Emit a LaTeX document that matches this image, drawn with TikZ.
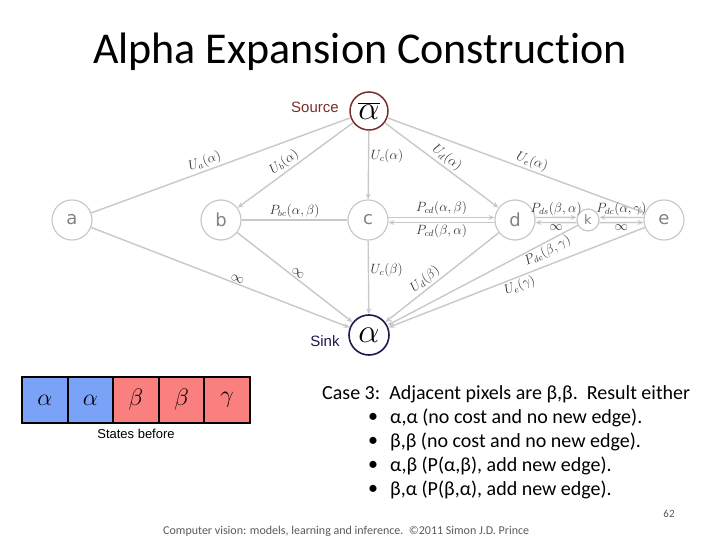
\documentclass[tikz,border=0pt]{standalone}
\usepackage{fontspec}
\setmainfont{Carlito}[Ligatures=NoCommon]
\newfontfamily\nodefont{DejaVu Sans}
\newfontfamily\arialfont{Liberation Sans}
\usetikzlibrary{arrows.meta}
\definecolor{edgegray}{RGB}{200,200,200}
\definecolor{lettergray}{RGB}{130,130,130}
\definecolor{srcred}{RGB}{125,45,45}
\definecolor{sinknavy}{RGB}{25,25,80}
\definecolor{cellblue}{RGB}{122,162,247}
\definecolor{cellred}{RGB}{250,128,128}
\definecolor{footgray}{RGB}{90,90,90}
\tikzset{
  pix/.style={circle, draw=edgegray, line width=1.2pt, minimum size=40pt, inner sep=0pt,
    text=lettergray, font=\nodefont\fontsize{18}{18}\selectfont},
  smallpix/.style={pix, minimum size=22pt, font=\nodefont\fontsize{13}{13}\selectfont},
  edge/.style={draw=edgegray, line width=1.4pt},
  arr/.style={edge, -{Stealth[length=6pt,width=5pt]}},
  lab/.style={font=\fontsize{12}{13}\selectfont, text=black!80, inner sep=1.3pt, scale=1.12},
  cell/.style={draw=black, line width=2pt, minimum width=45.6pt, minimum height=46pt,
    inner sep=0pt, font=\fontsize{20}{20}\selectfont},
  txt/.style={anchor=west, inner sep=0pt, font=\fontsize{20}{24}\selectfont},
}
\begin{document}
\begin{tikzpicture}[x=1pt,y=-1pt]
\useasboundingbox (0,0) rectangle (720,540);
% title
\node[font=\fontsize{44}{48}\selectfont] (title) at (360,52) {Alpha Expansion Construction};
% terminals
\node[circle, draw=srcred, line width=1.5pt, minimum size=38pt, inner sep=0pt,
  font=\fontsize{24}{24}\selectfont] (src) at (369,111) {\scalebox{1.35}{$\overline{\alpha}$}};
\node[text=srcred, font=\arialfont\fontsize{15}{15}\selectfont] (srclab) at (315,107) {Source};
\node[circle, draw=sinknavy, line width=1.6pt, minimum size=40pt, inner sep=0pt,
  font=\fontsize{24}{24}\selectfont] (sink) at (369,335) {\scalebox{1.35}{$\alpha$}};
\node[text=sinknavy, font=\arialfont\fontsize{15}{15}\selectfont] (sinklab) at (325,341) {Sink};
% pixel nodes
\node[pix] (a) at (72,220) {a};
\node[pix] (b) at (221,220) {b};
\node[pix] (c) at (368,220) {c};
\node[pix] (d) at (515,220) {d};
\node[smallpix] (k) at (588,220) {k};
\node[pix] (e) at (664,220) {e};
% source edges
\draw[edge] (src) -- (a) node[lab,pos=.55,above,sloped] {$U_a(\alpha)$};
\draw[arr] (src) -- (b) node[lab,pos=.55,above,sloped] {$U_b(\alpha)$};
\draw[arr] (src) -- (c) node[lab,pos=.37,right] {$U_c(\alpha)$};
\draw[arr] (src) -- (d) node[lab,pos=.5,above,sloped] {$U_d(\alpha)$};
\draw[arr] (src) -- (e) node[lab,pos=.55,above,sloped] {$U_e(\alpha)$};
% horizontal edges
\draw[edge] (b) -- (c) node[lab,midway,above] {$P_{bc}(\alpha,\beta)$};
\draw[arr] (c.7) -- (d.173) node[lab,midway,above] {$P_{cd}(\alpha,\beta)$};
\draw[arr] (d.-173) -- (c.-7) node[lab,midway,below] {$P_{cd}(\beta,\alpha)$};
\draw[arr] (d.7) -- (k.167) node[lab,midway,above,inner sep=1pt] {$P_{ds}(\beta,\alpha)$};
\draw[arr] (k.-167) -- (d.-7) node[lab,midway,below] {$\infty$};
\draw[arr] (e.173) -- (k.13) node[lab,midway,above,inner sep=1pt] {$P_{dc}(\alpha,\gamma)$};
\draw[arr] (k.-13) -- (e.-173) node[lab,midway,below] {$\infty$};
% sink edges
\draw[arr] (a) -- (sink) node[lab,pos=.56,above,sloped,inner sep=0.5pt] {$\infty$};
\draw[arr] (b) -- (sink) node[lab,pos=.5,above,sloped] {$\infty$};
\draw[arr] (c) -- (sink) node[lab,pos=.4,right] {$U_c(\beta)$};
\draw[arr] (d) -- (sink) node[lab,pos=.6,above,sloped] {$U_d(\beta)$};
\draw[arr] (k) -- (sink) node[lab,pos=.18,below,sloped] {$P_{de}(\beta,\gamma)$};
\draw[arr] (e) -- (sink) node[lab,pos=.5,below,sloped] {$U_e(\gamma)$};
% states before
\node[cell, fill=cellblue] (s1) at (44.8,400) {\scalebox{1.15}{$\alpha$}};
\node[cell, fill=cellblue] (s2) at (90.4,400) {\scalebox{1.15}{$\alpha$}};
\node[cell, fill=cellred] (s3) at (136,400) {\scalebox{1.15}{$\beta$}};
\node[cell, fill=cellred] (s4) at (181.6,400) {\scalebox{1.15}{$\beta$}};
\node[cell, fill=cellred] (s5) at (227.2,400) {\scalebox{1.15}{$\gamma$}};
\node[font=\arialfont\fontsize{13}{13}\selectfont] (sb) at (136,434) {States before};
% text
\node[txt] (t0) at (322,394) {Case 3:\ \ Adjacent pixels are β,β.\ \ Result either};
\node[txt] (b1) at (368,418) {•}; \node[txt] (t1) at (390,418) {α,α (no cost and no new edge).};
\node[txt] (b2) at (368,442) {•}; \node[txt] (t2) at (390,442) {β,β (no cost and no new edge).};
\node[txt] (b3) at (368,466) {•}; \node[txt] (t3) at (390,466) {α,β (P(α,β), add new edge).};
\node[txt] (b4) at (368,490) {•}; \node[txt] (t4) at (390,490) {β,α (P(β,α), add new edge).};
% footer
\node[text=footgray, font=\fontsize{11}{12}\selectfont] (pg) at (669,514) {62};
\node[text=footgray, anchor=west, inner sep=0pt, font=\fontsize{12}{13}\selectfont] (ft) at (163,531)
  {Computer vision: models, learning and inference.\ \ ©2011 Simon J.D. Prince};
\end{tikzpicture}
\end{document}
